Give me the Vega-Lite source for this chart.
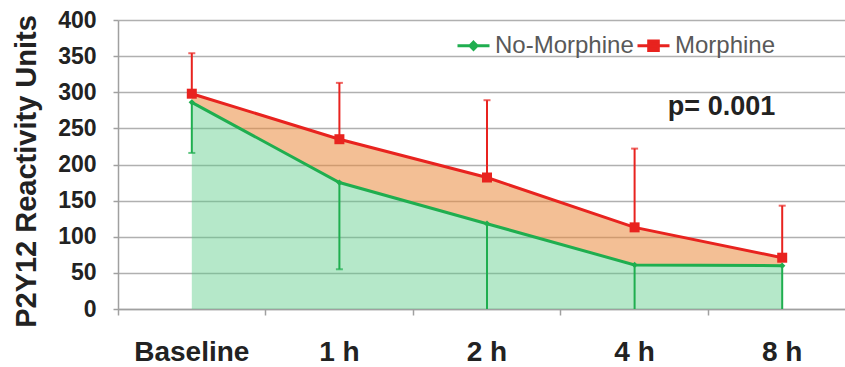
{
  "$schema": "https://vega.github.io/schema/vega-lite/v6.json",
  "width": 727,
  "height": 289,
  "autosize": {"type": "none"},
  "padding": {"left": 118, "top": 20, "right": 0, "bottom": 58},
  "background": "white",
  "config": {
    "view": {"stroke": null},
    "font": "Liberation Sans",
    "axisY": {
      "values": [0, 50, 100, 150, 200, 250, 300, 350, 400],
      "grid": true,
      "gridColor": "#b0b0b0",
      "gridWidth": 1.5,
      "domainColor": "#a0a0a0",
      "domainWidth": 1.5,
      "tickColor": "#a0a0a0",
      "tickWidth": 1.5,
      "tickSize": 5,
      "labelFontSize": 23,
      "labelFontWeight": "bold",
      "labelColor": "#222222",
      "labelPadding": 17,
      "titleFontSize": 29,
      "titleFontWeight": "bold",
      "titleColor": "#222222",
      "titlePadding": 16,
      "titleY": 151
    },
    "axisX": {
      "grid": false,
      "domainColor": "#a0a0a0",
      "domainWidth": 1.5,
      "tickColor": "#a0a0a0",
      "tickWidth": 1.5,
      "tickSize": 6,
      "bandPosition": 0,
      "labelAngle": 0,
      "labelFontSize": 28,
      "labelFontWeight": "bold",
      "labelColor": "#222222",
      "labelPadding": 23,
      "title": null
    }
  },
  "data": {
    "values": [
      {"time": "Baseline", "No-Morphine": 286, "No-Morphine low": 216, "Morphine": 298, "Morphine high": 354},
      {"time": "1 h", "No-Morphine": 175, "No-Morphine low": 55, "Morphine": 235, "Morphine high": 313},
      {"time": "2 h", "No-Morphine": 118, "No-Morphine low": -5, "Morphine": 182, "Morphine high": 289},
      {"time": "4 h", "No-Morphine": 61, "No-Morphine low": -45, "Morphine": 113, "Morphine high": 222},
      {"time": "8 h", "No-Morphine": 60, "No-Morphine low": -40, "Morphine": 71, "Morphine high": 143}
    ]
  },
  "encoding": {
    "x": {
      "field": "time",
      "type": "ordinal",
      "sort": ["Baseline", "1 h", "2 h", "4 h", "8 h"],
      "scale": {"type": "band", "range": [0, 738], "paddingInner": 0, "paddingOuter": 0}
    }
  },
  "layer": [
    {
      "mark": {"type": "area", "color": "#5bcc87", "opacity": 0.45},
      "encoding": {
        "y": {"field": "No-Morphine", "type": "quantitative", "title": "P2Y12 Reactivity Units",
              "scale": {"domain": [0, 400], "nice": false}}
      }
    },
    {
      "mark": {"type": "area", "color": "#e98b3e", "opacity": 0.55},
      "encoding": {
        "y": {"field": "Morphine", "type": "quantitative", "title": "P2Y12 Reactivity Units"},
        "y2": {"field": "No-Morphine"}
      }
    },
    {
      "mark": {"type": "rule", "color": "#1fae4f", "strokeWidth": 2, "clip": true},
      "encoding": {
        "y": {"field": "No-Morphine low", "type": "quantitative", "title": "P2Y12 Reactivity Units"},
        "y2": {"field": "No-Morphine"}
      }
    },
    {
      "mark": {"type": "tick", "color": "#1fae4f", "size": 7, "thickness": 2, "clip": true},
      "encoding": {
        "y": {"field": "No-Morphine low", "type": "quantitative", "title": "P2Y12 Reactivity Units"}
      }
    },
    {
      "mark": {"type": "rule", "color": "#e8231f", "strokeWidth": 2},
      "encoding": {
        "y": {"field": "Morphine", "type": "quantitative", "title": "P2Y12 Reactivity Units"},
        "y2": {"field": "Morphine high"}
      }
    },
    {
      "mark": {"type": "tick", "color": "#e8231f", "size": 7, "thickness": 2},
      "encoding": {
        "y": {"field": "Morphine high", "type": "quantitative", "title": "P2Y12 Reactivity Units"}
      }
    },
    {
      "transform": [{"fold": ["No-Morphine", "Morphine"], "as": ["series", "value"]}],
      "mark": {"type": "line", "strokeWidth": 3},
      "encoding": {
        "y": {"field": "value", "type": "quantitative", "title": "P2Y12 Reactivity Units"},
        "color": {
          "field": "series",
          "type": "nominal",
          "scale": {"domain": ["No-Morphine", "Morphine"], "range": ["#1fae4f", "#e8231f"]},
          "legend": {
            "orient": "none",
            "legendX": 338,
            "legendY": 8,
            "direction": "horizontal",
            "title": null,
            "padding": 0,
            "columnPadding": -3,
            "labelOffset": 4,
            "labelFontSize": 24,
            "labelColor": "#595959",
            "symbolSize": 1024,
            "symbolStrokeWidth": 3,
            "encode": {
              "symbols": {
                "update": {
                  "shape": {"signal": "datum.value === 'Morphine' ? 'M-1,0H1M-0.3,-0.3H0.3V0.3H-0.3Z' : 'M-1,0H1M0,-0.22L0.22,0L0,0.22L-0.22,0Z'"},
                  "fill": {"scale": "color", "field": "value"},
                  "strokeWidth": {"value": 3}
                }
              }
            }
          }
        }
      }
    },
    {
      "mark": {"type": "point", "shape": "square", "filled": true, "size": 100, "color": "#e8231f", "opacity": 1},
      "encoding": {
        "y": {"field": "Morphine", "type": "quantitative", "title": "P2Y12 Reactivity Units"}
      }
    },
    {
      "mark": {"type": "point", "shape": "diamond", "filled": true, "size": 40, "color": "#1fae4f", "opacity": 1},
      "encoding": {
        "y": {"field": "No-Morphine", "type": "quantitative", "title": "P2Y12 Reactivity Units"}
      }
    },
    {
      "data": {"values": [{"time": "8 h", "level": 280, "label": "p= 0.001"}]},
      "mark": {"type": "text", "align": "right", "baseline": "middle", "dx": -7, "fontSize": 27, "fontWeight": "bold", "color": "#222222"},
      "encoding": {
        "y": {"field": "level", "type": "quantitative", "title": "P2Y12 Reactivity Units"},
        "text": {"field": "label"}
      }
    }
  ]
}
